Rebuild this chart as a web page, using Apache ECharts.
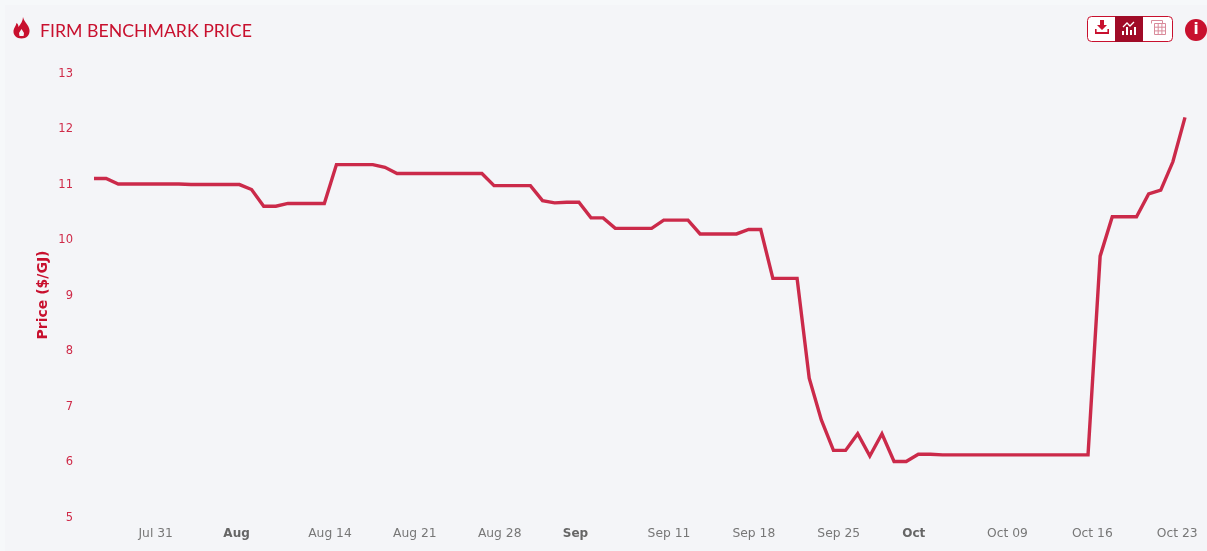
<!DOCTYPE html>
<html><head><meta charset="utf-8">
<style>html,body{margin:0;padding:0;background:#f6f8fa}#c{position:absolute;left:5px;top:5px;width:1202px;height:546px;background:#f4f5f8}#chart{position:absolute;left:0;top:0;width:1207px;height:551px}</style>
<script src="https://cdn.jsdelivr.net/npm/echarts@6/dist/echarts.min.js"></script>
</head><body><div id="c"></div><div id="chart"></div>
<script>
const chartTitle = 'FIRM BENCHMARK PRICE';
const yAxisName = 'Price ($/GJ)';
const dates = [
 'Jul 27','Jul 28','Jul 29','Jul 30','Jul 31',
 'Aug 01','Aug 02','Aug 03','Aug 04','Aug 05','Aug 06','Aug 07','Aug 08','Aug 09','Aug 10','Aug 11','Aug 12','Aug 13','Aug 14','Aug 15','Aug 16','Aug 17','Aug 18','Aug 19','Aug 20','Aug 21','Aug 22','Aug 23','Aug 24','Aug 25','Aug 26','Aug 27','Aug 28','Aug 29','Aug 30','Aug 31',
 'Sep 01','Sep 02','Sep 03','Sep 04','Sep 05','Sep 06','Sep 07','Sep 08','Sep 09','Sep 10','Sep 11','Sep 12','Sep 13','Sep 14','Sep 15','Sep 16','Sep 17','Sep 18','Sep 19','Sep 20','Sep 21','Sep 22','Sep 23','Sep 24','Sep 25','Sep 26','Sep 27','Sep 28','Sep 29','Sep 30',
 'Oct 01','Oct 02','Oct 03','Oct 04','Oct 05','Oct 06','Oct 07','Oct 08','Oct 09','Oct 10','Oct 11','Oct 12','Oct 13','Oct 14','Oct 15','Oct 16','Oct 17','Oct 18','Oct 19','Oct 20','Oct 21','Oct 22','Oct 23','Oct 24','Oct 25'];
const prices = [
 11.1,11.1,11,11,11,11,11,11,10.99,10.99,10.99,10.99,10.99,10.9,10.6,10.6,10.65,10.65,10.65,10.65,
 11.35,11.35,11.35,11.35,11.3,11.19,11.19,11.19,11.19,11.19,11.19,11.19,11.19,10.97,10.97,10.97,10.97,
 10.7,10.66,10.67,10.67,10.39,10.39,10.2,10.2,10.2,10.2,10.35,10.35,10.35,10.1,10.1,10.1,10.1,10.18,10.18,
 9.3,9.3,9.3,7.5,6.75,6.2,6.2,6.5,6.1,6.5,6,6,6.13,6.13,
 6.12,6.12,6.12,6.12,6.12,6.12,6.12,6.12,6.12,6.12,6.12,6.12,6.12,
 9.7,10.41,10.41,10.41,10.82,10.89,11.4,12.2];
const tickDates = ['Jul 31','Aug 07','Aug 14','Aug 21','Aug 28','Sep 04','Sep 11','Sep 18','Sep 25','Oct 02','Oct 09','Oct 16','Oct 23'];
const monthLabels = {'Aug 07':'Aug','Sep 04':'Sep','Oct 02':'Oct'};

const RED = '#c8102e', LINE = '#cb2a4a', DARK = '#a00b27';
echarts.graphic.registerShape('flameIcon', echarts.graphic.extendShape({
  shape:{},
  buildPath(ctx){
    ctx.moveTo(23,17);
    ctx.bezierCurveTo(24,22,29,25,29.5,30);
    ctx.bezierCurveTo(30,35,26.5,38.5,21.5,38.5);
    ctx.bezierCurveTo(16.5,38.5,13,35,13.5,30.5);
    ctx.bezierCurveTo(14,27.5,16,26,16.5,23);
    ctx.bezierCurveTo(18,24,18.5,25.5,18.5,27);
    ctx.bezierCurveTo(20.5,24,23,21,23,17);
    ctx.closePath();
  }
}));
const chart = echarts.init(document.getElementById('chart'));
chart.setOption({
  animation:false,
  backgroundColor:'transparent',
  title:{text:chartTitle,left:40,top:22,padding:0,textStyle:{fontFamily:'Lato',fontSize:17.7,fontWeight:'normal',color:RED}},
  grid:{left:94,right:22,top:73,bottom:34},
  xAxis:{type:'category',data:dates,boundaryGap:false,
    axisLine:{show:false},axisTick:{show:false},splitLine:{show:false},
    axisLabel:{interval:(i,v)=>tickDates.includes(v),align:'left',margin:11,padding:[0,0,0,-4],hideOverlap:false,
      fontFamily:'DejaVu Sans',fontSize:12.3,color:'#777',
      formatter:v=>monthLabels[v]?'{b|'+monthLabels[v]+'}':v,
      rich:{b:{fontFamily:'DejaVu Sans',fontSize:12,fontWeight:'bold',color:'#666'}}}},
  yAxis:{type:'value',min:5,max:13,interval:1,name:yAxisName,nameLocation:'middle',nameGap:44,nameMoveOverlap:false,
    nameTextStyle:{fontFamily:'DejaVu Sans',fontSize:14,fontWeight:'bold',color:RED},
    axisLine:{show:false},axisTick:{show:false},splitLine:{show:false},
    axisLabel:{margin:21,verticalAlign:'top',padding:[-5,0,0,0],fontFamily:'DejaVu Sans',fontSize:11.5,color:'#cf2a48'}},
  series:[{type:'line',data:prices,showSymbol:false,symbol:'none',lineStyle:{color:LINE,width:3.4,join:'miter'},clip:false}],
  graphic:[
    {type:'flameIcon',shape:{},style:{fill:RED}},
    {type:'polygon',shape:{points:[[21.5,29],[24,33],[23.6,36],[19.5,36],[19,33]]},style:{fill:'#f4f5f8'}},
    {type:'rect',shape:{x:1087.5,y:16.5,width:85,height:25,r:4},style:{fill:'#fff',stroke:RED,lineWidth:1}},
    {type:'rect',shape:{x:1115,y:16,width:28,height:26},style:{fill:DARK}},
    // download icon
    {type:'polygon',shape:{points:[[1100,20],[1104,20],[1104,25],[1107,25],[1102,30],[1097,25],[1100,25]]},style:{fill:RED}},
    {type:'polygon',shape:{points:[[1095,29],[1096.6,29],[1096.6,32],[1107.4,32],[1107.4,29],[1109,29],[1109,34],[1095,34]]},style:{fill:RED}},
    // chart icon
    {type:'polyline',shape:{points:[[1123,27],[1127,23],[1130,26],[1134,22]]},style:{stroke:'#fff',fill:null,lineWidth:1.3}},
    {type:'rect',shape:{x:1122,y:31,width:2,height:4},style:{fill:'#fff'}},
    {type:'rect',shape:{x:1126,y:27,width:2,height:8},style:{fill:'#fff'}},
    {type:'rect',shape:{x:1130,y:30,width:2,height:5},style:{fill:'#fff'}},
    {type:'rect',shape:{x:1134,y:27,width:2,height:8},style:{fill:'#fff'}},
    // table icon
    {type:'polyline',shape:{points:[[1151.5,23.5],[1151.5,20.5],[1162.5,20.5],[1162.5,23.5]]},style:{stroke:'#d98a9a',fill:null,lineWidth:1}},
    {type:'rect',shape:{x:1154.5,y:23.5,width:11,height:11},style:{stroke:'#d98a9a',fill:null,lineWidth:1}},
    {type:'line',shape:{x1:1154.5,y1:27.2,x2:1165.5,y2:27.2},style:{stroke:'#d98a9a',lineWidth:1}},
    {type:'line',shape:{x1:1154.5,y1:30.9,x2:1165.5,y2:30.9},style:{stroke:'#d98a9a',lineWidth:1}},
    {type:'line',shape:{x1:1158.2,y1:23.5,x2:1158.2,y2:34.5},style:{stroke:'#d98a9a',lineWidth:1}},
    {type:'line',shape:{x1:1161.9,y1:23.5,x2:1161.9,y2:34.5},style:{stroke:'#d98a9a',lineWidth:1}},
    // info icon
    {type:'circle',shape:{cx:1196,cy:30,r:11},style:{fill:RED}},
    {type:'text',style:{x:1196,y:30,text:'i',align:'center',verticalAlign:'middle',font:'bold 15px "DejaVu Sans"',fill:'#fff'}}
  ]
});
</script></body></html>
